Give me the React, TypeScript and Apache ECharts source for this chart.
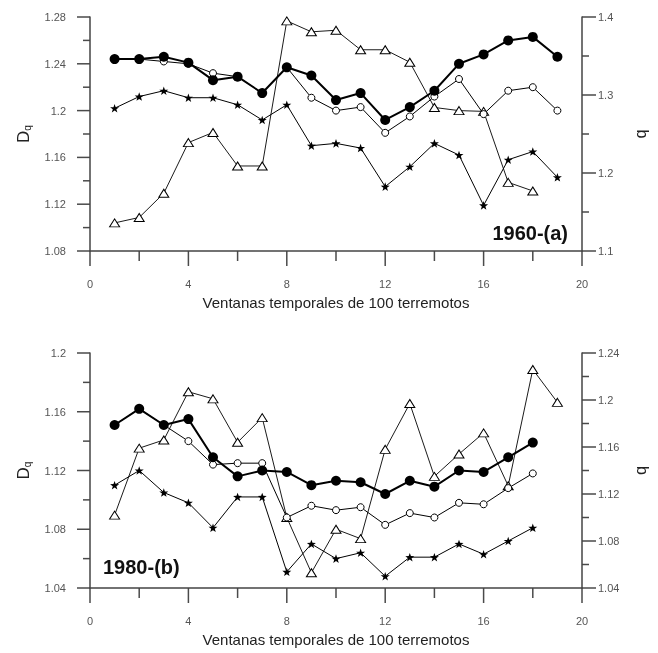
import React, { useEffect, useRef } from "react";
import * as echarts from "echarts";

// Window index (x)
const windows = [1, 2, 3, 4, 5, 6, 7, 8, 9, 10, 11, 12, 13, 14, 15, 16, 17, 18, 19];

// Panel (a) 1960 — left axis Dq
const topFilled = [1.244, 1.244, 1.246, 1.241, 1.226, 1.229, 1.215, 1.237, 1.230, 1.209, 1.215, 1.192, 1.203, 1.217, 1.240, 1.248, 1.260, 1.263, 1.246];
const topOpen = [1.244, 1.244, 1.242, 1.240, 1.232, 1.229, 1.215, 1.237, 1.211, 1.200, 1.203, 1.181, 1.195, 1.212, 1.227, 1.197, 1.217, 1.220, 1.200];
const topStar = [1.202, 1.212, 1.217, 1.211, 1.211, 1.205, 1.192, 1.205, 1.170, 1.172, 1.168, 1.135, 1.152, 1.172, 1.162, 1.119, 1.158, 1.165, 1.143];
// Panel (a) — right axis b
const topTriB = [1.136, 1.143, 1.174, 1.239, 1.252, 1.209, 1.209, 1.395, 1.381, 1.383, 1.358, 1.358, 1.342, 1.284, 1.280, 1.279, 1.188, 1.177];

// Panel (b) 1980 — left axis Dq
const botFilled = [1.151, 1.162, 1.151, 1.155, 1.129, 1.116, 1.120, 1.119, 1.110, 1.113, 1.112, 1.104, 1.113, 1.109, 1.120, 1.119, 1.129, 1.139];
const botOpen = [1.151, 1.162, 1.151, 1.140, 1.124, 1.125, 1.125, 1.088, 1.096, 1.093, 1.095, 1.083, 1.091, 1.088, 1.098, 1.097, 1.108, 1.118];
const botStar = [1.110, 1.120, 1.105, 1.098, 1.081, 1.102, 1.102, 1.051, 1.070, 1.060, 1.064, 1.048, 1.061, 1.061, 1.070, 1.063, 1.072, 1.081];
// Panel (b) — right axis b
const botTriB = [1.102, 1.159, 1.166, 1.207, 1.201, 1.164, 1.185, 1.100, 1.053, 1.090, 1.082, 1.158, 1.197, 1.135, 1.154, 1.172, 1.127, 1.226, 1.198];

// Axis tick values
const xTicks = [0, 2, 4, 6, 8, 10, 12, 14, 16, 18, 20];
const topLeftTicks = [1.08, 1.1, 1.12, 1.14, 1.16, 1.18, 1.2, 1.22, 1.24, 1.26, 1.28];
const topRightTicks = [1.1, 1.15, 1.2, 1.25, 1.3, 1.35, 1.4];
const botLeftTicks = [1.04, 1.06, 1.08, 1.1, 1.12, 1.14, 1.16, 1.18, 1.2];
const botRightTicks = [1.04, 1.06, 1.08, 1.1, 1.12, 1.14, 1.16, 1.18, 1.2, 1.22, 1.24];

const xTitle = "Ventanas temporales de 100 terremotos";

const STAR = "path://M0,-10 L2.35,-3.24 L9.51,-3.09 L3.80,1.24 L5.88,8.09 L0,4 L-5.88,8.09 L-3.80,1.24 L-9.51,-3.09 L-2.35,-3.24 Z";

const pair = (ys: number[]) => ys.map((y, i) => [windows[i], y]);

const FONT = "Liberation Sans, Arial, sans-serif";
const AXC = "#444";
const TKC = "#4a4a4a";
const LBC = "#555";

const isMultiple = (v: number, step: number) => {
  const r = v / step;
  return Math.abs(r - Math.round(r)) < 1e-6;
};
const labelEvery = (step: number) => (v: number) =>
  isMultiple(v, step) ? String(parseFloat(v.toFixed(2))) : "";

function xAxisDef(gridIndex: number) {
  return {
    type: "value",
    gridIndex,
    min: 0,
    max: 20,
    interval: 2,
    name: xTitle,
    nameLocation: "middle",
    nameGap: 44,
    nameTextStyle: { fontFamily: FONT, fontSize: 15, color: "#222" },
    axisLine: { show: true, onZero: false, lineStyle: { color: AXC, width: 1.5 } },
    axisTick: { show: false },
    axisLabel: { margin: 27, fontFamily: FONT, fontSize: 11, color: LBC, formatter: labelEvery(4) },
    splitLine: { show: false },
  };
}

function leftAxisDef(gridIndex: number, min: number, max: number) {
  return {
    type: "value",
    gridIndex,
    position: "left",
    min,
    max,
    interval: 0.02,
    name: "{d|D}{q|q}",
    nameLocation: "middle",
    nameRotate: 90,
    nameGap: 58,
    nameTextStyle: {
      rich: {
        d: { fontFamily: FONT, fontSize: 17, color: "#222" },
        q: { fontFamily: FONT, fontSize: 10, color: "#222", padding: [8, 0, 0, 0] },
      },
    },
    axisLine: { show: true, onZero: false, lineStyle: { color: AXC, width: 1.5 } },
    axisTick: { show: false },
    axisLabel: { margin: 24, fontFamily: FONT, fontSize: 11, color: LBC, formatter: labelEvery(0.04) },
    splitLine: { show: false },
  };
}

function rightAxisDef(gridIndex: number, min: number, max: number, interval: number, labelStep: number) {
  return {
    type: "value",
    gridIndex,
    position: "right",
    min,
    max,
    interval,
    name: "b",
    nameLocation: "middle",
    nameRotate: -90,
    nameGap: 52,
    nameTextStyle: { fontFamily: FONT, fontSize: 16, color: "#222" },
    axisLine: { show: true, onZero: false, lineStyle: { color: AXC, width: 1.5 } },
    axisTick: { show: false },
    axisLabel: { margin: 16, fontFamily: FONT, fontSize: 11, color: LBC, formatter: labelEvery(labelStep) },
    splitLine: { show: false },
  };
}

function lineSeries(
  ys: number[],
  xAxisIndex: number,
  yAxisIndex: number,
  kind: "filled" | "open" | "star" | "tri",
  z: number
) {
  const base: any = {
    type: "line",
    xAxisIndex,
    yAxisIndex,
    data: pair(ys),
    z,
    showAllSymbol: true,
    lineStyle: { color: "#000", width: 1 },
    emphasis: { disabled: true },
  };
  if (kind === "filled") {
    base.symbol = "circle";
    base.symbolSize = 10;
    base.itemStyle = { color: "#000" };
    base.lineStyle = { color: "#000", width: 2 };
  } else if (kind === "open") {
    base.symbol = "circle";
    base.symbolSize = 7;
    base.itemStyle = { color: "#fff", borderColor: "#000", borderWidth: 1 };
  } else if (kind === "star") {
    base.symbol = STAR;
    base.symbolKeepAspect = true;
    base.symbolSize = 9;
    base.itemStyle = { color: "#000" };
  } else {
    base.symbol = "triangle";
    base.symbolSize = [10, 8];
    base.itemStyle = { color: "#fff", borderColor: "#000", borderWidth: 1 };
    base.lineStyle = { color: "#000", width: 0.9 };
  }
  return base;
}

export default function App() {
  const ref = useRef<HTMLDivElement>(null);
  useEffect(() => {
    if (!ref.current) return;
    const chart = echarts.init(ref.current, undefined, { renderer: "svg" });
    chart.setOption({
      animation: false,
      grid: [
        { left: 90, top: 17, width: 493, height: 234 },
        { left: 90, top: 353, width: 493, height: 235 },
      ],
      xAxis: [xAxisDef(0), xAxisDef(1)],
      yAxis: [
        leftAxisDef(0, 1.08, 1.28),
        rightAxisDef(0, 1.1, 1.4, 0.05, 0.1),
        leftAxisDef(1, 1.04, 1.2),
        rightAxisDef(1, 1.04, 1.24, 0.02, 0.04),
      ],
      series: [
        lineSeries(topTriB, 0, 1, "tri", 2),
        lineSeries(topStar, 0, 0, "star", 3),
        lineSeries(topOpen, 0, 0, "open", 4),
        lineSeries(topFilled, 0, 0, "filled", 5),
        lineSeries(botTriB, 1, 3, "tri", 2),
        lineSeries(botStar, 1, 2, "star", 3),
        lineSeries(botOpen, 1, 2, "open", 4),
        lineSeries(botFilled, 1, 2, "filled", 5),
      ],
    });

    // Panel tags, plus tick marks placed through the axes' own scales
    const els: any[] = [
      {
        type: "text",
        right: 90,
        top: 223,
        style: { text: "1960-(a)", fontFamily: FONT, fontSize: 20, fontWeight: "bold", fill: "#111" },
      },
      {
        type: "text",
        left: 103,
        top: 557,
        style: { text: "1980-(b)", fontFamily: FONT, fontSize: 20, fontWeight: "bold", fill: "#111" },
      },
    ];
    const seg = (x1: number, y1: number, x2: number, y2: number) =>
      els.push({
        type: "line",
        shape: { x1, y1, x2, y2 },
        style: { stroke: TKC, lineWidth: 1.5 },
      });
    const panels = [
      { g: 0, l: 0, r: 1, lt: topLeftTicks, rt: topRightTicks, lMin: 1.08, rStep: 0.1 },
      { g: 1, l: 2, r: 3, lt: botLeftTicks, rt: botRightTicks, lMin: 1.04, rStep: 0.04 },
    ];
    panels.forEach((p) => {
      const px = (v: number) => Number(chart.convertToPixel({ xAxisIndex: p.g } as any, v));
      const pyL = (v: number) => Number(chart.convertToPixel({ yAxisIndex: p.l } as any, v));
      const pyR = (v: number) => Number(chart.convertToPixel({ yAxisIndex: p.r } as any, v));
      const baseY = pyL(p.lMin);
      const leftX = px(0);
      const rightX = px(20);
      xTicks.forEach((v) => {
        const x = px(v);
        seg(x, baseY, x, baseY + (isMultiple(v, 4) ? 15 : 10));
      });
      p.lt.forEach((v) => {
        const y = pyL(v);
        seg(leftX, y, leftX - (isMultiple(v, 0.04) ? 13 : 7), y);
      });
      p.rt.forEach((v) => {
        const y = pyR(v);
        seg(rightX, y, rightX + (isMultiple(v, p.rStep) ? 14 : 7), y);
      });
    });
    chart.setOption({ graphic: els });

    return () => chart.dispose();
  }, []);
  return (
    <div
      ref={ref}
      style={{ position: "fixed", left: 0, top: 0, width: 658, height: 653 }}
    />
  );
}
